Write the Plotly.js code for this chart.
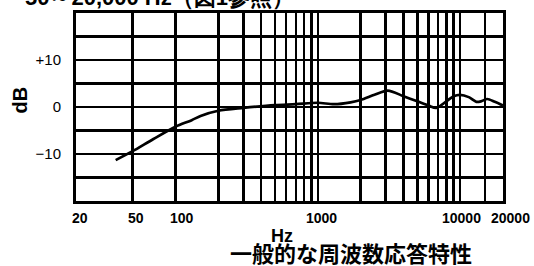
<!DOCTYPE html>
<html>
<head>
<meta charset="utf-8">
<script src="https://cdn.plot.ly/plotly-3.0.1.min.js"></script>
<style>html,body{margin:0;padding:0;background:#fff;}#chart{width:534px;height:266px;}</style>
</head>
<body>
<div id="chart"></div>
<script>
// Frequency response curve (Hz, dB)
const freqHz = [38, 50, 70, 100, 130, 150, 200, 300, 500, 700, 1000, 1300, 1700, 2000, 2500, 3100, 4000, 5000, 6000, 6800, 8000, 9000, 10000, 11500, 13000, 14000, 15500, 17500, 20000];
const levelDb = [-11.3, -9.4, -6.8, -4.2, -2.8, -1.9, -0.8, -0.2, 0.4, 0.6, 0.9, 0.6, 1.0, 1.5, 2.6, 3.5, 2.3, 1.2, 0.3, -0.2, 1.2, 2.3, 2.6, 2.1, 1.1, 1.2, 1.7, 1.1, 0.3];

// Grid / tick definitions
const xGridVals = [20, 50, 100, 200, 300, 400, 500, 600, 700, 800, 900, 1000, 2000, 3000, 4000, 5000, 6000, 7000, 8000, 9000, 10000, 15000, 20000];
const xLabelVals = [20, 50, 100, 1000, 10000, 20000];
const xLabelText = ["20", "50", "100", "1000", "10000", "20000"];
const yGridVals = [-20, -15, -10, -5, 0, 5, 10, 15, 20];
const yLabels = {"10": "+10", "0": "0", "-10": "\u221210"};

const titleText = "50\uFF5E20,000 Hz\uFF08\u56F31\u53C2\u7167\uFF09";
const xTitle = "Hz";
const yTitle = "dB";
const caption = "\u4E00\u822C\u7684\u306A\u5468\u6CE2\u6570\u5FDC\u7B54\u7279\u6027";

const yTickText = yGridVals.map(v => yLabels[String(v)] || "");
const xLabelShift = [4, 3, 7, 4, 1, 7];

const font = "Liberation Sans, Arial, sans-serif";
const cjk = "Noto Sans CJK JP, sans-serif";

const data = [{
  x: freqHz, y: levelDb, type: "scatter", mode: "lines",
  line: {color: "#000", width: 2.7, shape: "spline", smoothing: 0.8},
  hoverinfo: "skip"
}];

const xLabelAnns = xLabelVals.map((v, i) => ({
  text: xLabelText[i], xref: "x", yref: "paper", x: Math.log10(v), y: -0.090,
  xanchor: "center", yanchor: "middle", xshift: xLabelShift[i], showarrow: false,
  font: {family: font, size: 14, weight: "bold", color: "#000"}
}));

const layout = {
  width: 534, height: 266,
  margin: {l: 76, r: 31, t: 13, b: 65, pad: 0},
  paper_bgcolor: "#fff", plot_bgcolor: "#fff",
  showlegend: false,
  font: {family: font, color: "#000", size: 14},
  xaxis: {
    type: "log", range: [Math.log10(20), Math.log10(20000)],
    tickmode: "array", tickvals: xGridVals, showticklabels: false,
    showgrid: true, gridcolor: "#000", gridwidth: 2.5,
    showline: true, linecolor: "#000", linewidth: 3, mirror: true,
    ticks: "", zeroline: false, fixedrange: true
  },
  yaxis: {
    range: [-20, 20],
    tickmode: "array", tickvals: yGridVals, ticktext: yTickText,
    showgrid: true, gridcolor: "#000", gridwidth: 2.5,
    showline: true, linecolor: "#000", linewidth: 3, mirror: true,
    ticks: "", ticklabelstandoff: 9,
    tickfont: {family: font, size: 15, color: "#000"},
    zeroline: false, fixedrange: true
  },
  annotations: xLabelAnns.concat([
    {text: titleText, xref: "paper", yref: "paper", x: -0.124, y: 1.085, xanchor: "left", yanchor: "middle",
     showarrow: false, font: {family: font, size: 22, weight: "bold", color: "#000"}},
    {text: yTitle, xref: "paper", yref: "paper", x: -0.130, y: 0.537, xanchor: "center", yanchor: "middle",
     textangle: -90, showarrow: false, font: {family: font, size: 20, weight: "bold", color: "#000"}},
    {text: xTitle, xref: "paper", yref: "paper", x: 0.482, y: -0.186, xanchor: "center", yanchor: "middle",
     showarrow: false, borderpad: 0, font: {family: font, size: 18, weight: "bold", color: "#000"}},
    {text: caption, xref: "paper", yref: "paper", x: 0.644, y: -0.270, xanchor: "center", yanchor: "middle",
     showarrow: false, borderpad: 0, font: {family: cjk, size: 22, weight: "bold", color: "#000"}}
  ])
};

Plotly.newPlot("chart", data, layout, {staticPlot: true, displayModeBar: false});
</script>
</body>
</html>
